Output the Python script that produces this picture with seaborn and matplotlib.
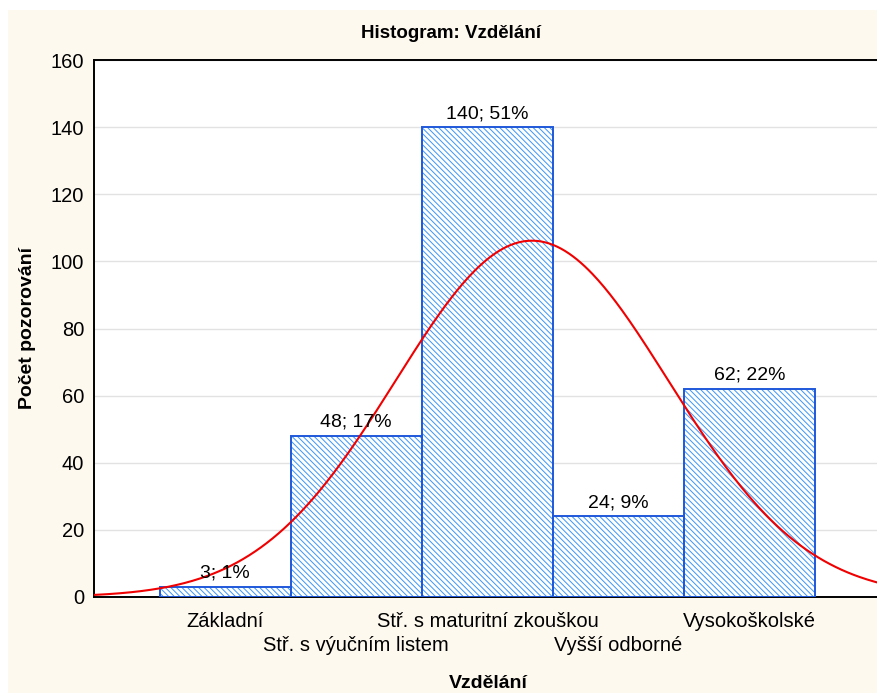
import numpy as np
import pandas as pd
import matplotlib
matplotlib.use("Agg")
import matplotlib.pyplot as plt
from matplotlib.patches import Rectangle
import seaborn as sns

categories = ["Základní", "Stř. s výučním listem", "Stř. s maturitní zkouškou",
              "Vyšší odborné", "Vysokoškolské"]
counts = [3, 48, 140, 24, 62]
y_ticks = [0, 20, 40, 60, 80, 100, 120, 140, 160]

sns.set_theme(style="white")
plt.rcParams['font.family'] = ['Liberation Sans', 'DejaVu Sans']
plt.rcParams['hatch.linewidth'] = 0.7

W, H = 877, 695
fig = plt.figure(figsize=(W / 100, H / 100), dpi=100, facecolor="white")
fig.patches.append(Rectangle((8 / W, 0.003), 1, (H - 10 - 2) / H, transform=fig.transFigure,
                             facecolor="#FEF9EF", edgecolor="none", zorder=-10))

ax = fig.add_axes([94 / W, 1 - 597 / H, (877 - 94) / W, (597 - 60) / H])
ax.set_facecolor("white")

df = pd.DataFrame({"cat": categories, "n": counts})
sns.barplot(data=df, x="cat", y="n", order=categories, width=1.0, ax=ax,
            color="white", edgecolor="#3A95FA", linewidth=0, hatch="\\\\\\\\\\\\", zorder=2)

total = sum(counts)
for p, c in zip(ax.patches, counts):
    ax.add_patch(Rectangle((p.get_x(), p.get_y()), p.get_width(), p.get_height(),
                           facecolor="none", edgecolor="#1F58DA", linewidth=1.4, zorder=3))
    ax.text(p.get_x() + p.get_width() / 2, p.get_height() + 1.5,
            f"{c}; {round(100 * c / total)}%", ha="center", va="bottom",
            fontsize=14, color="black", zorder=5)

# fitted normal curve
pos = np.arange(len(counts))
cnt = np.array(counts, dtype=float)
mu = (pos * cnt).sum() / cnt.sum()
sd = np.sqrt(((pos - mu) ** 2 * cnt).sum() / cnt.sum())
xs = np.linspace(-1.0, 4.97, 400)
ys = cnt.sum() / (sd * np.sqrt(2 * np.pi)) * np.exp(-0.5 * ((xs - mu) / sd) ** 2)
sns.lineplot(x=xs, y=ys, ax=ax, color="#F00000", linewidth=1.5, zorder=4)

ax.set_xlim(-1.0, 4.97)
ax.set_ylim(0, 160)
ax.set_yticks(y_ticks)
ax.set_yticklabels([str(v) for v in y_ticks], fontsize=14.5, color="black")
ax.set_xticks(pos[::2])
ax.set_xticklabels(categories[::2], fontsize=14.5, color="black")
ax.set_xticks(pos[1::2], minor=True)
ax.set_xticklabels(categories[1::2], minor=True, fontsize=14.5, color="black")
ax.yaxis.grid(True, color="#E2E2E2", linewidth=1.0, zorder=0)
ax.set_axisbelow(True)
ax.tick_params(axis="both", which="both", direction="in", length=4, width=1, color="black")
ax.tick_params(axis="y", pad=7)
ax.tick_params(axis="x", which="major", pad=11)
ax.tick_params(axis="x", which="minor", pad=28)
for s in ["left", "bottom", "top"]:
    ax.spines[s].set_visible(True)
    ax.spines[s].set_color("black")
    ax.spines[s].set_linewidth(1.4)
ax.spines["right"].set_visible(False)

ax.set_xlabel("")
ax.set_ylabel("")
fig.text(451 / W, 1 - 33 / H, "Histogram: Vzdělání", ha="center", va="center",
         fontsize=13.5, fontweight="bold", color="black")
fig.text(488 / W, 1 - 683 / H, "Vzdělání", ha="center", va="center",
         fontsize=14, fontweight="bold", color="black")
fig.text(28 / W, 1 - 328 / H, "Počet pozorování", ha="center", va="center",
         fontsize=14, fontweight="bold", rotation=90, color="black")

fig.savefig("out.png", dpi=100, facecolor="white")
